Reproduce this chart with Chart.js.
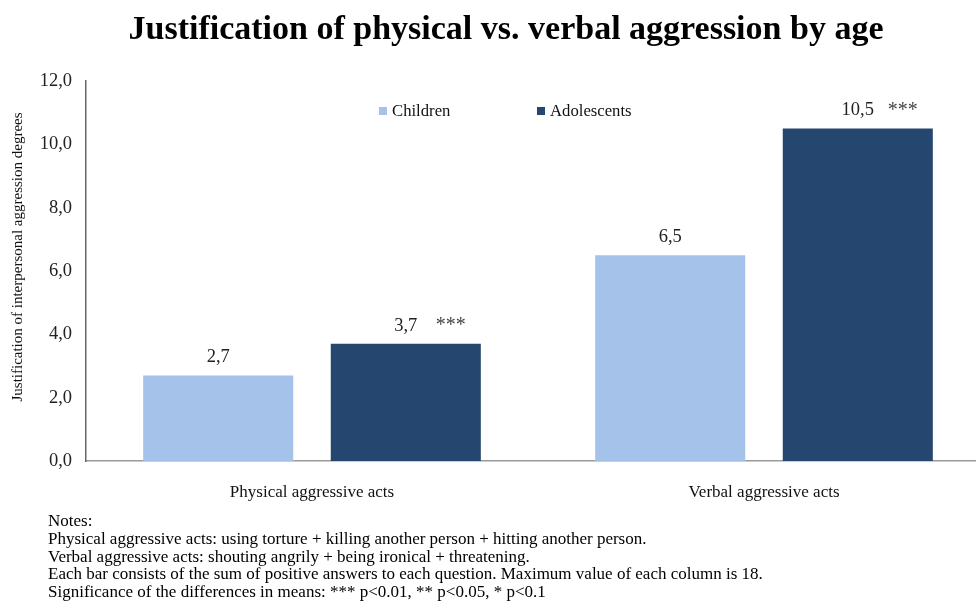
<!DOCTYPE html>
<html>
<head>
<meta charset="utf-8">
<script src="https://cdn.jsdelivr.net/npm/chart.js@4.4.1/dist/chart.umd.min.js"></script>
<style>
  html, body { margin: 0; padding: 0; width: 976px; height: 611px; overflow: hidden; background: #fff; }
  #wrap { position: relative; width: 976px; height: 611px; overflow: hidden; }
  #c { position: absolute; left: 0; top: 0; }
  #title { position: absolute; left: 0; top: 9px; width: 1012px; text-align: center; line-height: 52px;
           font: bold 34px "Liberation Serif", "Times New Roman", serif; color: #000; white-space: nowrap; }
  #notes { position: absolute; left: 48px; top: 512px; font: 17px "Liberation Serif", "Times New Roman", serif;
           line-height: 17.8px; color: #000; white-space: nowrap; }
</style>
</head>
<body>
<div id="wrap">
  <canvas id="c" width="990" height="611" style="width:990px;height:611px"></canvas>
  <div id="title">Justification of physical vs. verbal aggression by age</div>
  <div id="notes">
    Notes:<br>
    Physical aggressive acts: using torture + killing another person + hitting another person.<br>
    Verbal aggressive acts: shouting angrily + being ironical + threatening.<br>
    Each bar consists of the sum of positive answers to each question. Maximum value of each column is 18.<br>
    Significance of the differences in means: *** p&lt;0.01, ** p&lt;0.05, * p&lt;0.1
  </div>
</div>
<script>
const categories = ["Physical aggressive acts", "Verbal aggressive acts"];
const seriesNames = ["Children", "Adolescents"];
const childrenValues = [2.7, 6.5];
const adolescentValues = [3.7, 10.5];
const childrenSig = ["", ""];
const adolescentSig = ["***", "***"];
const yTicks = [0, 2, 4, 6, 8, 10, 12];
const yAxisTitle = "Justification of interpersonal aggression degrees";

const SERIF = '"Liberation Serif", "Times New Roman", serif';
const colors = ["#A4C2EA", "#25476F"];
const fmt = v => v.toFixed(1).replace('.', ',');

const labelPlugin = {
  id: 'barLabels',
  afterDatasetsDraw(chart) {
    const ctx = chart.ctx;
    const sigs = [childrenSig, adolescentSig];
    chart.data.datasets.forEach((ds, di) => {
      const meta = chart.getDatasetMeta(di);
      meta.data.forEach((bar, i) => {
        ctx.save();
        ctx.fillStyle = '#222';
        ctx.font = '18.5px ' + SERIF;
        ctx.textAlign = 'center';
        ctx.textBaseline = 'middle';
        ctx.fillText(fmt(ds.data[i]), bar.x, bar.y - 18);
        const s = sigs[di][i];
        if (s) {
          ctx.textAlign = 'left';
          ctx.font = '20px ' + SERIF;
          ctx.fillStyle = '#444';
          ctx.fillText(s, bar.x + 30, bar.y - 18);
        }
        ctx.restore();
      });
    });
  }
};

const axisTitlePlugin = {
  id: 'yTitle',
  afterDraw(chart) {
    const ctx = chart.ctx;
    ctx.save();
    ctx.translate(18, 257);
    ctx.rotate(-Math.PI / 2);
    ctx.font = '15px ' + SERIF;
    ctx.fillStyle = '#111';
    ctx.textAlign = 'center';
    ctx.textBaseline = 'middle';
    ctx.fillText(yAxisTitle, 0, 0);
    ctx.restore();
  }
};

const legendPlugin = {
  id: 'customLegend',
  afterDraw(chart) {
    const ctx = chart.ctx;
    const items = [
      { x: 379, text: seriesNames[0], color: colors[0] },
      { x: 537, text: seriesNames[1], color: colors[1] }
    ];
    const y = 111;
    ctx.save();
    ctx.font = '16.7px ' + SERIF;
    ctx.textBaseline = 'middle';
    ctx.textAlign = 'left';
    items.forEach(it => {
      ctx.fillStyle = it.color;
      ctx.fillRect(it.x, y - 4, 8, 8);
      ctx.fillStyle = '#111';
      ctx.fillText(it.text, it.x + 13, y + 1);
    });
    ctx.restore();
  }
};

new Chart(document.getElementById('c'), {
  type: 'bar',
  data: {
    labels: categories,
    datasets: [
      { label: seriesNames[0], data: childrenValues, backgroundColor: colors[0],
        categoryPercentage: 0.83, barPercentage: 0.8 },
      { label: seriesNames[1], data: adolescentValues, backgroundColor: colors[1],
        categoryPercentage: 0.83, barPercentage: 0.8 }
    ]
  },
  options: {
    responsive: false,
    animation: false,
    devicePixelRatio: 1,
    layout: { padding: { top: 81, left: 0, right: 0, bottom: 0 } },
    plugins: { legend: { display: false }, title: { display: false }, tooltip: { enabled: false } },
    scales: {
      x: {
        grid: { display: false },
        border: { display: true, color: '#9a9a9a', width: 1.5 },
        ticks: { color: '#111', font: { family: SERIF, size: 17 }, padding: 13 },
        afterFit(scale) { scale.height = 150; }
      },
      y: {
        min: 0, max: 12,
        afterBuildTicks(scale) { scale.ticks = yTicks.map(v => ({ value: v })); },
        grid: { display: false },
        border: { display: true, color: '#666', width: 1.5 },
        ticks: { color: '#222', font: { family: SERIF, size: 18.5 }, padding: 6, callback: v => fmt(v) },
        title: { display: false },
        afterFit(scale) { scale.width = 86; }
      }
    }
  },
  plugins: [labelPlugin, legendPlugin, axisTitlePlugin]
});
</script>
</body>
</html>
